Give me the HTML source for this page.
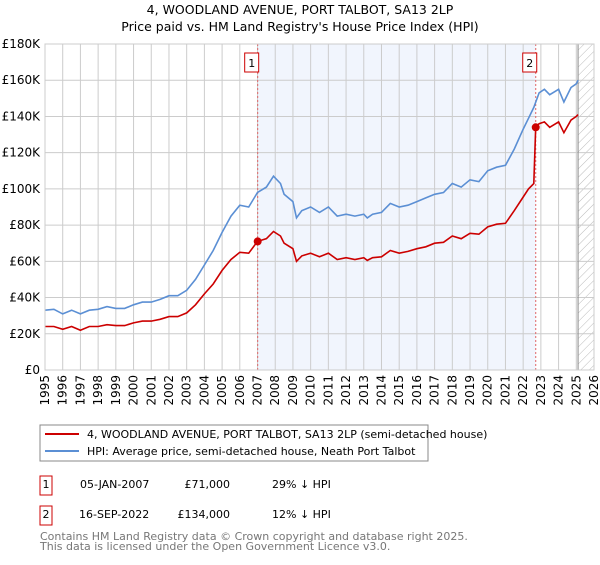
<!DOCTYPE html>
<html><head><meta charset="utf-8"><style>
body{margin:0;background:#fff;font-family:"Liberation Sans","DejaVu Sans",sans-serif;}
svg text{font-family:"DejaVu Sans","Liberation Sans",sans-serif;}
</style></head><body>
<svg id="c" width="600" height="560" xmlns="http://www.w3.org/2000/svg">
<defs><pattern id="hatch" width="6" height="6" patternUnits="userSpaceOnUse" patternTransform="rotate(45)"><line x1="0" y1="0" x2="0" y2="6" stroke="#bbb" stroke-width="1"/></pattern></defs>
<text x="300" y="14" text-anchor="middle" font-size="12.5" fill="#000">4, WOODLAND AVENUE, PORT TALBOT, SA13 2LP</text>
<text x="300" y="31" text-anchor="middle" font-size="12.5" fill="#000">Price paid vs. HM Land Registry's House Price Index (HPI)</text>
<g id="plot"></g>
<rect x="40" y="425" width="388" height="36" fill="#fff" stroke="#888"/>
<line x1="45" y1="434" x2="79" y2="434" stroke="#cc0000" stroke-width="2"/>
<text x="87" y="438" font-size="11">4, WOODLAND AVENUE, PORT TALBOT, SA13 2LP (semi-detached house)</text>
<line x1="45" y1="451" x2="79" y2="451" stroke="#5b8fd4" stroke-width="2"/>
<text x="87" y="455" font-size="11">HPI: Average price, semi-detached house, Neath Port Talbot</text>
<g font-size="11">
<rect x="40" y="476" width="12" height="19" fill="#fff" stroke="#cc0000"/>
<text x="46" y="488" text-anchor="middle">1</text>
<text x="80" y="488">05-JAN-2007</text>
<text x="230" y="488" text-anchor="end">£71,000</text>
<text x="272" y="488">29% ↓ HPI</text>
<rect x="40" y="506" width="12" height="19" fill="#fff" stroke="#cc0000"/>
<text x="46" y="518" text-anchor="middle">2</text>
<text x="79" y="518">16-SEP-2022</text>
<text x="230" y="518" text-anchor="end">£134,000</text>
<text x="272" y="518">12% ↓ HPI</text>
</g>
<text x="40" y="540" font-size="11" fill="#777">Contains HM Land Registry data © Crown copyright and database right 2025.</text>
<text x="40" y="550" font-size="11" fill="#777">This data is licensed under the Open Government Licence v3.0.</text>
</svg>
<script>
const yTicks=[0,20,40,60,80,100,120,140,160,180];
const yTickLabels=["£0","£20K","£40K","£60K","£80K","£100K","£120K","£140K","£160K","£180K"];
const xYears=[1995,1996,1997,1998,1999,2000,2001,2002,2003,2004,2005,2006,2007,2008,2009,2010,2011,2012,2013,2014,2015,2016,2017,2018,2019,2020,2021,2022,2023,2024,2025,2026];
const hpiT=[1995,1995.5,1996,1996.5,1997,1997.5,1998,1998.5,1999,1999.5,2000,2000.5,2001,2001.5,2002,2002.5,2003,2003.5,2004,2004.5,2005,2005.5,2006,2006.5,2007,2007.5,2007.9,2008.3,2008.5,2009,2009.2,2009.5,2010,2010.5,2011,2011.5,2012,2012.5,2013,2013.2,2013.5,2014,2014.5,2015,2015.5,2016,2016.5,2017,2017.5,2018,2018.5,2019,2019.5,2020,2020.5,2021,2021.5,2022,2022.3,2022.6,2022.9,2023.2,2023.5,2024,2024.3,2024.7,2025,2025.1];
const hpiV=[33,33.5,31,33,31,33,33.5,35,34,34,36,37.5,37.5,39,41,41,44,50,58,66,76,85,91,90,98,101,107,103,97,93,84,88,90,87,90,85,86,85,86,84,86,87,92,90,91,93,95,97,98,103,101,105,104,110,112,113,122,133,139,145,153,155,152,155,148,156,158,160];
const priceT=[1995,1995.5,1996,1996.5,1997,1997.5,1998,1998.5,1999,1999.5,2000,2000.5,2001,2001.5,2002,2002.5,2003,2003.5,2004,2004.5,2005,2005.5,2006,2006.5,2007,2007.5,2007.9,2008.3,2008.5,2009,2009.2,2009.5,2010,2010.5,2011,2011.5,2012,2012.5,2013,2013.2,2013.5,2014,2014.5,2015,2015.5,2016,2016.5,2017,2017.5,2018,2018.5,2019,2019.5,2020,2020.5,2021,2021.5,2022,2022.3,2022.6,2022.71,2022.9,2023.2,2023.5,2024,2024.3,2024.7,2025,2025.1];
const priceV=[24,24,22.5,24,22,24,24,25,24.5,24.5,26,27,27,28,29.5,29.5,31.5,36,42,47.5,55,61,65,64.5,71,72.5,76.5,74,70,67,60,63,64.5,62.5,64.5,61,62,61,62,60.5,62,62.5,66,64.5,65.5,67,68,70,70.5,74,72.5,75.5,75,79,80.5,81,88,95.5,100,103,134,136,137,134,137,131,138,140,141];
const saleT=[2007.01,2022.71];
const saleV=[71,134];
const saleLabels=["1","2"];
const X0=45,X1=594,Y0=370,Y1=44,T0=1995,T1=2026,VMAX=180;
const sx=t=>X0+(t-T0)/(T1-T0)*(X1-X0);
const sy=v=>Y0-v/VMAX*(Y0-Y1);
const NS="http://www.w3.org/2000/svg";
const g=document.getElementById('plot');
function mk(tag,attrs){const e=document.createElementNS(NS,tag);for(const k in attrs)e.setAttribute(k,attrs[k]);g.appendChild(e);return e;}
let e;
e=mk('rect',{x:sx(saleT[0]),y:Y1,width:sx(saleT[1])-sx(saleT[0]),height:Y0-Y1,fill:'#eef3fd',opacity:0.8});


e=mk('rect',{x:sx(2025.1),y:Y1,width:X1-sx(2025.1),height:Y0-Y1,fill:'url(#hatch)'});


yTicks.forEach((v,i)=>{
 e=mk('line',{x1:X0,x2:X1,y1:sy(v),y2:sy(v),stroke:'#ccc'});
 
 
 e=mk('text',{x:X0-5,y:sy(v)+4,'text-anchor':'end','font-size':12});
 e.textContent=yTickLabels[i];
 
 
});
xYears.forEach(y=>{
 e=mk('line',{x1:sx(y),x2:sx(y),y1:Y1,y2:Y0,stroke:'#ccc'});
 
 
 e=mk('text',{x:0,y:0,'font-size':12,'text-anchor':'end',transform:`translate(${sx(y)+4},${Y0+5}) rotate(-90)`});
 e.textContent=y;
 
 
});
e=mk('line',{x1:sx(2025.1),x2:sx(2025.1),y1:Y1,y2:Y0,stroke:'#888','stroke-width':1});


saleT.forEach((t,i)=>{
 e=mk('line',{x1:sx(t),x2:sx(t),y1:Y1,y2:Y0,stroke:'#e06666','stroke-dasharray':'2,2'});
 
 
});
const pts=(T,V)=>T.map((t,i)=>sx(t).toFixed(1)+','+sy(V[i]).toFixed(1)).join(' ');
e=mk('polyline',{points:pts(hpiT,hpiV),fill:'none',stroke:'#5b8fd4','stroke-width':1.6});


e=mk('polyline',{points:pts(priceT,priceV),fill:'none',stroke:'#cc0000','stroke-width':1.6});


saleT.forEach((t,i)=>{
 e=mk('circle',{cx:sx(t),cy:sy(saleV[i]),r:4,fill:'#cc0000'});
 
 
 const bx=sx(t)-9;
 e=mk('rect',{x:bx-4,y:53,width:14,height:19,fill:'#fff',stroke:'#cc0000'});
 
 
 e=mk('text',{x:bx+3,y:67,'text-anchor':'middle','font-size':11});
 e.textContent=saleLabels[i];
 
 
});
e=mk('rect',{x:X0,y:Y1,width:X1-X0,height:Y0-Y1,fill:'none',stroke:'#ccc'});


</script>
</body></html>
